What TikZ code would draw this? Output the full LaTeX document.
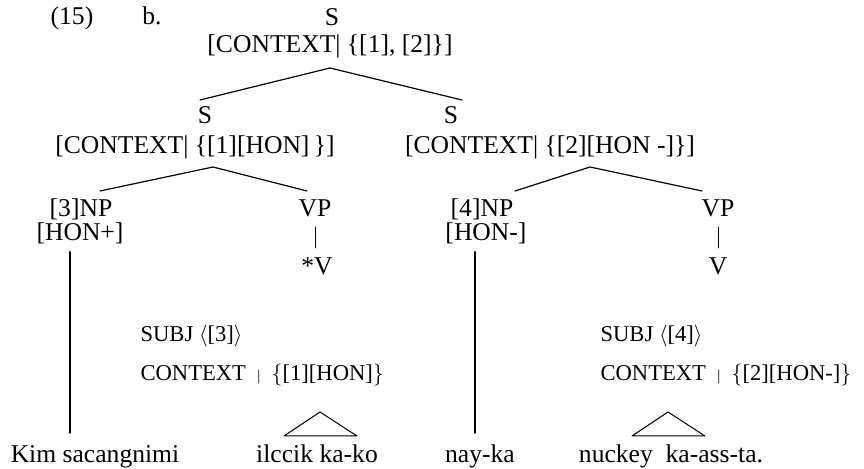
\documentclass[tikz,border=0pt]{standalone}
\usepackage{fontspec}
\setmainfont{Liberation Serif}
\tikzstyle{every node}=[font=\fontsize{12.8}{15}\selectfont,inner sep=0pt,anchor=base]
\tikzstyle{every path}=[line width=0.6pt,line cap=round,line join=round]
\tikzstyle{feat}=[font=\fontsize{11.3}{13}\selectfont,anchor=base west]
\tikzstyle{stem}=[line width=1pt]
\tikzstyle{roof}=[line width=0.5pt]
\tikzstyle{unary}=[line width=0.45pt]
\newcommand{\smallbar}{{\fontsize{7.5}{8}\selectfont |}}

\begin{document}
\begin{tikzpicture}[x=0.5pt,y=-0.5pt]
    \useasboundingbox (0,0) rectangle (864,469);

    % Example number
    \node (num) at (72,25) {(15)};
    \node (part) at (152,25) {b.};

    % Root
    \node (S0) at (332,26) {S};
    \node (S0ctx) at (330,53) {[CONTEXT| \{[1], [2]\}]};

    % Conjuncts
    \node (S1) at (205,124) {S};
    \node (S1ctx) at (195,154) {[CONTEXT| \{[1][HON]\,\}]};
    \node (S2) at (451,124) {S};
    \node (S2ctx) at (550,154) {[CONTEXT| \{[2][HON -]\}]};

    % Branch points
    \coordinate (top) at (330,68);
    \coordinate (topL) at (200,100);
    \coordinate (topR) at (462,100);
    \coordinate (midL) at (213,167);
    \coordinate (midLL) at (100,191);
    \coordinate (midLR) at (307,191);
    \coordinate (midR) at (590,167);
    \coordinate (midRL) at (515,191);
    \coordinate (midRR) at (702,191);
    \draw (topL) -- (top) -- (topR);
    \draw (midLL) -- (midL) -- (midLR);
    \draw (midRL) -- (midR) -- (midRR);

    % West conjunct
    \node (NP1) at (81,217) {[3]NP};
    \node (NP1f) at (80,241) {[HON+]};
    \node (VP1) at (315,217) {VP};
    \node (V1) at (317,275) {*V};
    \coordinate (bar1t) at (315,227);
    \coordinate (bar1b) at (315,248);
    \draw[unary] (bar1t) -- (bar1b);
    \node[feat] (subj1) at (140,342) {SUBJ $\big\langle$[3]$\big\rangle$};
    \node[feat] (ctx1) at (140,381) {CONTEXT\ \ \smallbar\ \ $\big\{$[1][HON]$\big\}$};

    % East conjunct
    \node (NP2) at (482,217) {[4]NP};
    \node (NP2f) at (486,241) {[HON-]};
    \node (VP2) at (718,217) {VP};
    \node (V2) at (718,275) {V};
    \coordinate (bar2t) at (718,227);
    \coordinate (bar2b) at (718,248);
    \draw[unary] (bar2t) -- (bar2b);
    \node[feat] (subj2) at (600,342) {SUBJ $\big\langle$[4]$\big\rangle$};
    \node[feat] (ctx2) at (600,381) {CONTEXT\ \ \smallbar\ \ $\big\{$[2][HON-]$\big\}$};

    % Words
    \node (w1) at (95,463) {Kim sacangnimi};
    \node (w2) at (317,463) {ilccik ka-ko};
    \node (w3) at (480,463) {nay-ka};
    \node (w4) at (671,463) {nuckey\ \ ka-ass-ta.};

    % Stems and roofs
    \coordinate (stem1t) at (70,252);
    \coordinate (stem1b) at (70,433);
    \coordinate (stem2t) at (475,252);
    \coordinate (stem2b) at (475,433);
    \draw[stem] (stem1t) -- (stem1b);
    \draw[stem] (stem2t) -- (stem2b);
    \coordinate (roof1) at (320,412);
    \coordinate (roof2) at (668,412);
    \draw[roof] (284,436) -- (roof1) -- (357,436) -- cycle;
    \draw[roof] (632,436) -- (roof2) -- (705,436) -- cycle;
\end{tikzpicture}
\end{document}
